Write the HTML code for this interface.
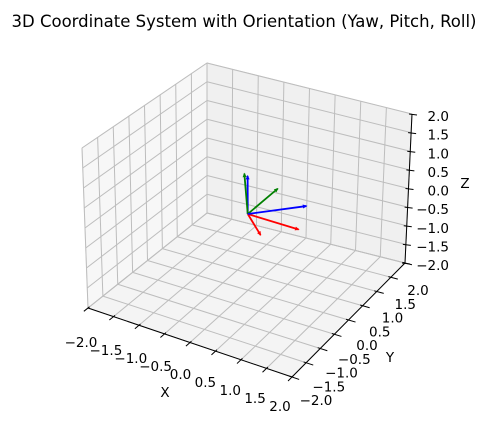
<!DOCTYPE html>
<html><head><meta charset="utf-8"><style>
body{margin:0;background:#fff;}
svg{display:block;font-family:"DejaVu Sans","Liberation Sans",sans-serif;}
</style></head><body>
<svg id="c" width="488" height="424" viewBox="0 0 488 424" xmlns="http://www.w3.org/2000/svg">
<text x="244" y="27" text-anchor="middle" font-size="16.5" fill="#000">3D Coordinate System with Orientation (Yaw, Pitch, Roll)</text>
<g id="panes"></g>
<g id="grid"></g>
<g id="axes"></g>
<g id="arrows"></g>
<text x="165" y="397" text-anchor="middle" font-size="13.5">X</text>
<text x="390" y="362" text-anchor="middle" font-size="13.5">Y</text>
<text x="465" y="188" text-anchor="middle" font-size="13.5">Z</text>
</svg>
<script>
const xTicks=[-2,-1.5,-1,-0.5,0,0.5,1,1.5,2];
const yTicks=[-2,-1.5,-1,-0.5,0,0.5,1,1.5,2];
const zTicks=[-2,-1.5,-1,-0.5,0,0.5,1,1.5,2];
const tickLabels=["−2.0","−1.5","−1.0","−0.5","0.0","0.5","1.0","1.5","2.0"];
const arrowNames=["world-x","world-y","world-z","body-x","body-y","body-z"];
const arrowColors=["red","green","blue","red","green","blue"];
const arrowX=[1,0,0,0.67,-0.10,0.82];
const arrowY=[0,1,0,-0.71,0.06,0.565];
const arrowZ=[0,0,1,0.21,0.98,0.15];

const NS="http://www.w3.org/2000/svg";
const C={"000":[88,308],"100":[292,377],"010":[207,213],"110":[405,263],
"001":[82,148],"101":[289,226],"011":[207,63],"111":[412,114]};
function P(x,y,z){
 const u=(x+2)/4,v=(y+2)/4,w=(z+2)/4;let px=0,py=0;
 for(const a of[0,1])for(const b of[0,1])for(const c of[0,1]){
  const wt=(a?u:1-u)*(b?v:1-v)*(c?w:1-w);const p=C[""+a+b+c];px+=wt*p[0];py+=wt*p[1];}
 return[px,py];}
function mk(tag,attrs,parent){const e=document.createElementNS(NS,tag);for(const k in attrs)e.setAttribute(k,attrs[k]);parent.appendChild(e);return e;}
function poly(pts){return pts.map(p=>p[0].toFixed(1)+","+p[1].toFixed(1)).join(" ");}
const panes=document.getElementById("panes");
let e;
e=mk("polygon",{points:poly([P(-2,-2,-2),P(-2,2,-2),P(-2,2,2),P(-2,-2,2)]),fill:"#f7f7f7",stroke:"#e6e6e6"},panes);


e=mk("polygon",{points:poly([P(-2,2,-2),P(2,2,-2),P(2,2,2),P(-2,2,2)]),fill:"#f0f0f0",stroke:"#e6e6e6"},panes);


e=mk("polygon",{points:poly([P(-2,-2,-2),P(2,-2,-2),P(2,2,-2),P(-2,2,-2)]),fill:"#f4f4f4",stroke:"#e6e6e6"},panes);


const grid=document.getElementById("grid");
function gl(a,b,name){const l=mk("line",{x1:a[0],y1:a[1],x2:b[0],y2:b[1],stroke:"#bdbdbd","stroke-width":1},grid);
 
 }
xTicks.forEach(t=>{gl(P(t,-2,-2),P(t,2,-2),"x-grid-floor");gl(P(t,2,-2),P(t,2,2),"x-grid-back");});
yTicks.forEach(t=>{gl(P(-2,t,-2),P(2,t,-2),"y-grid-floor");gl(P(-2,t,-2),P(-2,t,2),"y-grid-side");});
zTicks.forEach(t=>{gl(P(-2,-2,t),P(-2,2,t),"z-grid-side");gl(P(-2,2,t),P(2,2,t),"z-grid-back");});
const axes=document.getElementById("axes");
function al(a,b,name){const l=mk("line",{x1:a[0],y1:a[1],x2:b[0],y2:b[1],stroke:"#000","stroke-width":1},axes);
 
 }
function tx(p,s,anchor,name){const t=mk("text",{x:p[0].toFixed(1),y:(p[1]+5).toFixed(1),"text-anchor":anchor,"font-size":"13.5"},axes);t.textContent=s;
 
 }
al(P(-2,-2,-2),P(2,-2,-2),"x-axis-line");
al(P(2,-2,-2),P(2,2,-2),"y-axis-line");
al(P(2,2,-2),P(2,2,2),"z-axis-line");
xTicks.forEach((t,i)=>{const b=P(t,-2.14,-2),c=P(t,-1.95,-2);al(c,b,"x-tick");
 const f=(t+2)/4;tx([81+f*(280-81),342+f*(406-342)],tickLabels[i],"middle","x-tick-label");});
yTicks.forEach((t,i)=>{const b=P(2.14,t,-2),c=P(1.95,t,-2);al(c,b,"y-tick");
 const f=(t+2)/4;tx([316+f*(418-316),400+f*(290-400)],tickLabels[i],"middle","y-tick-label");});
zTicks.forEach((t,i)=>{const a=P(2,2,t);al([a[0]-3,a[1]],[a[0]+5,a[1]+1],"z-tick");
 tx([449,a[1]+2],tickLabels[i],"end","z-tick-label");});
const arrows=document.getElementById("arrows");
arrowNames.forEach((n,i)=>{
 const o=P(0,0,0),p=P(arrowX[i],arrowY[i],arrowZ[i]);
 const g=mk("g",{},arrows);
 
 
 mk("line",{x1:o[0],y1:o[1],x2:p[0],y2:p[1],stroke:arrowColors[i],"stroke-width":1.8},g);
 const dx=p[0]-o[0],dy=p[1]-o[1],L=Math.hypot(dx,dy)||1,ux=dx/L,uy=dy/L,h=3.5,w=2;
 const b=[p[0]-ux*h,p[1]-uy*h];
 mk("polygon",{points:poly([[p[0]+ux,p[1]+uy],[b[0]-uy*w,b[1]+ux*w],[b[0]+uy*w,b[1]-ux*w]]),fill:arrowColors[i]},g);
});
</script>
</body></html>
